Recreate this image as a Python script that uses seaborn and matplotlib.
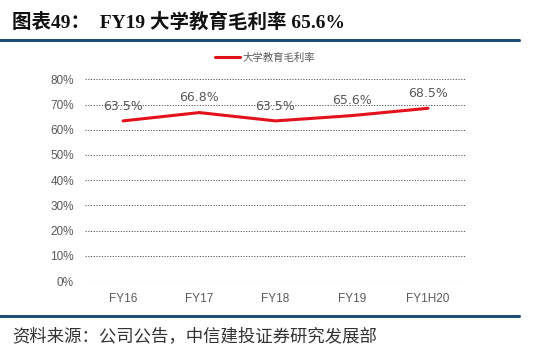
import numpy as np
import pandas as pd
import seaborn as sns
import matplotlib.pyplot as plt
from matplotlib.lines import Line2D
from matplotlib.ticker import PercentFormatter

# ---------------------------------------
# Data
# ---------------------------------------
years = ["FY16", "FY17", "FY18", "FY19", "FY1H20"]
margin = [63.5, 66.8, 63.5, 65.6, 68.5]
yticks = [0, 10, 20, 30, 40, 50, 60, 70, 80]
series_name = "大学教育毛利率"
title_text = "图表49：  FY19 大学教育毛利率 65.6%"
source_text = "资料来源：公司公告，中信建投证券研究发展部"

df = pd.DataFrame({"year": years, "margin": margin})

# ---------------------------------------
# Style
# ---------------------------------------
sns.set_style("white")
plt.rcParams["font.family"] = ["Noto Sans CJK SC", "DejaVu Sans"]

fig = plt.figure(figsize=(5.5, 3.54), dpi=100)
fig.patch.set_facecolor("white")

W, H = 550, 354
ax = fig.add_axes([85 / W, 1 - 281 / H, 381 / W, 201.7 / H])

sns.lineplot(data=df, x="year", y="margin", ax=ax, color="#e3111b",
             linewidth=2.2, sort=False, legend=False)

ax.set_xlim(-0.5, len(years) - 0.5)
ax.set_ylim(0, 80)
ax.set_yticks(yticks)
ax.yaxis.set_major_formatter(PercentFormatter(decimals=0))
ax.set_xlabel("")
ax.set_ylabel("")

# gridlines (dotted, 0% solid light)
for t in yticks:
    if t == 0:
        ax.axhline(t, color="#d9d9d9", linewidth=0.8, zorder=0)
    else:
        ax.axhline(t, color="#555555", linewidth=0.7,
                   linestyle=(0, (1.2, 1.6)), zorder=0)

for s in ax.spines.values():
    s.set_visible(False)

ax.tick_params(axis="both", length=0, labelsize=8.5, colors="#595959")
ax.tick_params(axis="x", pad=9)
ax.tick_params(axis="y", pad=8)
for lab in ax.get_xticklabels() + ax.get_yticklabels():
    lab.set_family(["Liberation Sans", "DejaVu Sans"])

# data labels
for i, v in enumerate(margin):
    ax.annotate(f"{v:.1f}%", (i, v), xytext=(0, 6), textcoords="offset points",
                ha="center", va="bottom", fontsize=9, color="#595959",
                family=["DejaVu Sans"])

# legend
handle = Line2D([0], [0], color="#e3111b", linewidth=2.2)
fig.legend([handle], [series_name], loc="center", bbox_to_anchor=(265 / W, 1 - 58 / H),
           frameon=False, fontsize=7.5, handlelength=2.4, handletextpad=0.3,
           labelcolor="#595959")

# title and rules
fig.text(12 / W, 1 - 22 / H, title_text, fontsize=14, fontweight="bold",
         ha="left", va="center", color="#111111",
         family=["Liberation Serif", "Noto Sans CJK SC"])
fig.add_artist(Line2D([0, 519 / W], [1 - 40 / H, 1 - 40 / H],
                      color="#1f4e79", linewidth=2.2))
fig.add_artist(Line2D([0, 519 / W], [1 - 316 / H, 1 - 316 / H],
                      color="#1f4e79", linewidth=2.2))
fig.text(12 / W, 1 - 336 / H, source_text, fontsize=12.5,
         ha="left", va="center", color="#333333")

plt.savefig("out.png", dpi=100, facecolor="white")
